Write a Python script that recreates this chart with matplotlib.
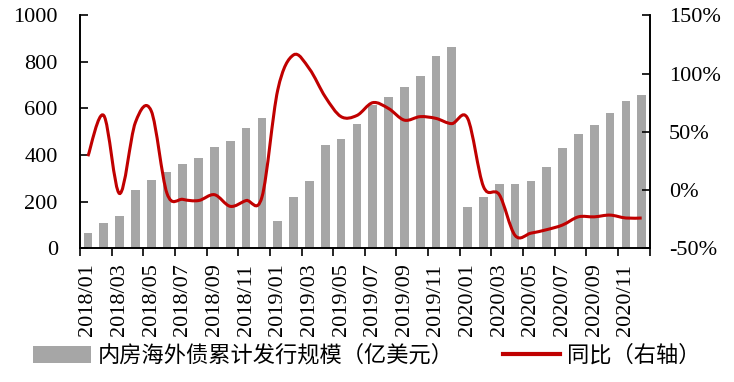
import numpy as np
import matplotlib
matplotlib.use("Agg")
import matplotlib.pyplot as plt
from matplotlib.path import Path
from matplotlib.patches import PathPatch, Patch
from matplotlib.lines import Line2D

months = [f"{y}/{m:02d}" for y in (2018, 2019, 2020) for m in range(1, 13)]

issuance = [64, 107, 140, 249, 292, 329, 363, 389, 435, 460, 516, 558,
            117, 220, 287, 443, 469, 532, 615, 649, 691, 740, 825, 864,
            179, 220, 276, 276, 289, 348, 432, 491, 528, 582, 632, 658]

yoy = [29, 64, -3, 58, 68, -3, -8, -9, -4, -14, -9, -6,
       86, 116, 104, 80, 63, 64, 75, 70, 60, 63, 61.5, 57,
       61.5, 3, -4, -39, -37, -34, -30, -23, -23, -21.5, -24, -24]

bar_label = "内房海外债累计发行规模（亿美元）"
line_label = "同比（右轴）"

serif = ["Liberation Serif", "DejaVu Serif"]
cjk = ["Noto Sans CJK SC", "DejaVu Sans"]

fig = plt.figure(figsize=(7.34, 3.82), dpi=100)
ax = fig.add_axes([0.109, 0.35, 0.776, 0.61])
ax2 = ax.twinx()

x = np.arange(len(months))
ax.bar(x, issuance, width=0.55, color="#A6A6A6", zorder=1)
ax.set_xlim(-0.5, len(months) - 0.5)
ax.set_ylim(0, 1000)
ax.set_yticks(range(0, 1001, 200))

# smooth line like Excel: cubic bezier through the points
pts = np.column_stack([x, yoy]).astype(float)
verts = [tuple(pts[0])]
codes = [Path.MOVETO]
n = len(pts)
for i in range(n - 1):
    p0 = pts[i - 1] if i > 0 else pts[i]
    p1 = pts[i]
    p2 = pts[i + 1]
    p3 = pts[i + 2] if i + 2 < n else pts[i + 1]
    c1 = p1 + (p2 - p0) / 6
    c2 = p2 - (p3 - p1) / 6
    verts += [tuple(c1), tuple(c2), tuple(p2)]
    codes += [Path.CURVE4] * 3
ax2.add_patch(PathPatch(Path(verts, codes), facecolor="none",
                        edgecolor="#C00000", lw=2.2, zorder=3))
ax2.set_ylim(-50, 150)
ax2.set_yticks(range(-50, 151, 50))
ax2.set_yticklabels([f"{v}%" for v in range(-50, 151, 50)])

# ticks at boundaries every 2 months, labels on odd months
ax.set_xticks(np.arange(-0.5, len(months), 2))
ax.set_xticklabels([])
ax.set_xticks(x[::2], minor=True)
ax.set_xticklabels(months[::2], minor=True, rotation=90, fontsize=16,
                   family=serif)
ax.tick_params(axis="x", which="major", direction="out", length=6, width=1.2)
ax.tick_params(axis="x", which="minor", length=0, pad=11)
ax.tick_params(axis="y", direction="in", length=6, width=1.2, pad=16,
               labelsize=16)
ax2.tick_params(axis="y", direction="in", length=6, width=1.2, pad=14,
                labelsize=16)
for lab in ax.get_yticklabels() + ax2.get_yticklabels():
    lab.set_family(serif)

for a in (ax, ax2):
    a.spines["top"].set_visible(False)
    for s in ("left", "right", "bottom"):
        a.spines[s].set_linewidth(1.2)

handles = [Patch(facecolor="#A6A6A6", label=bar_label),
           Line2D([0], [0], color="#C00000", lw=3, label=line_label)]
fig.legend(handles=handles, loc="center", bbox_to_anchor=(0.5, 0.07),
           ncol=2, frameon=False, prop={"family": cjk, "size": 16},
           handlelength=2.6, handleheight=0.8, handletextpad=0.3,
           columnspacing=2.2)

fig.savefig("out.png", dpi=100)
